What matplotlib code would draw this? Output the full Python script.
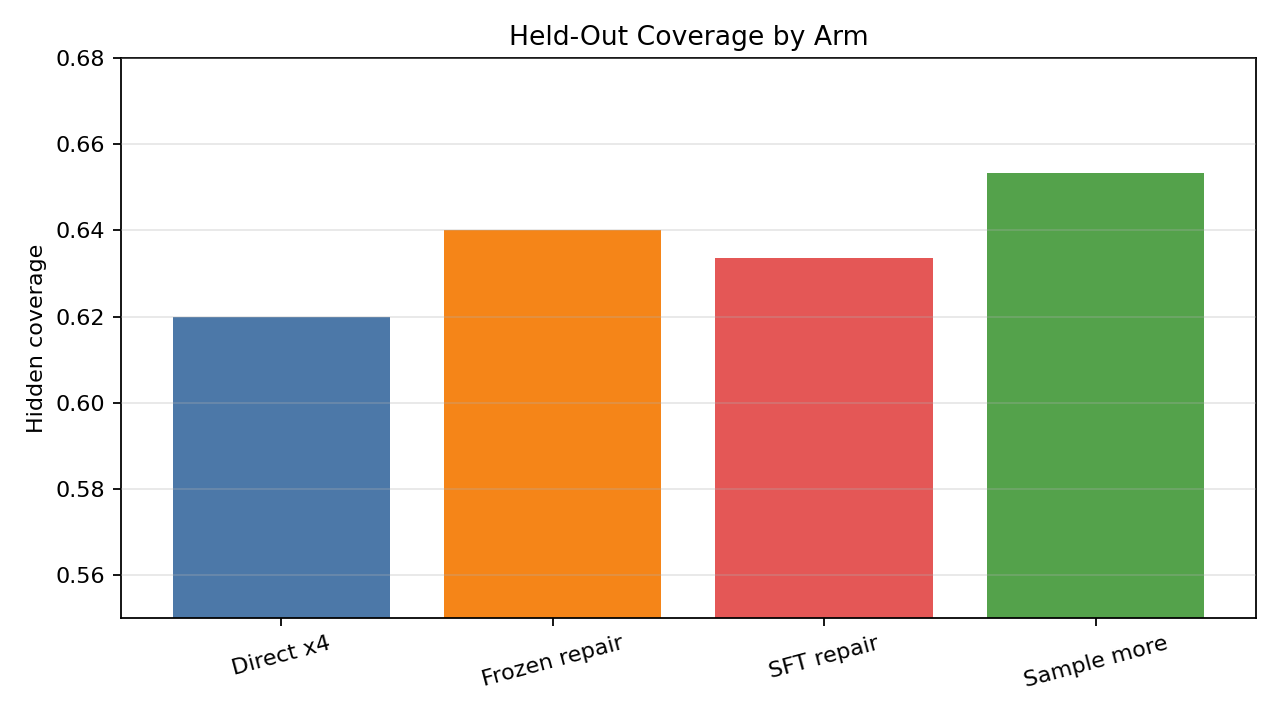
import matplotlib
matplotlib.use("Agg")
import matplotlib.pyplot as plt

arms = ["Direct x4", "Frozen repair", "SFT repair", "Sample more"]
coverage = [0.620, 0.640, 0.6335, 0.6533]
colors = ["#4c78a8", "#f58518", "#e45756", "#54a24b"]

fig, ax = plt.subplots(figsize=(8, 4.5), dpi=160)
ax.bar(arms, coverage, color=colors)
ax.set_ylim(0.55, 0.68)
ax.set_ylabel("Hidden coverage")
ax.set_title("Held-Out Coverage by Arm")
ax.set_axisbelow(False)
ax.grid(axis="y", alpha=0.3)
plt.xticks(rotation=15)
plt.subplots_adjust(left=0.0945, right=0.981, top=0.919, bottom=0.142)
fig.savefig("out.png")
